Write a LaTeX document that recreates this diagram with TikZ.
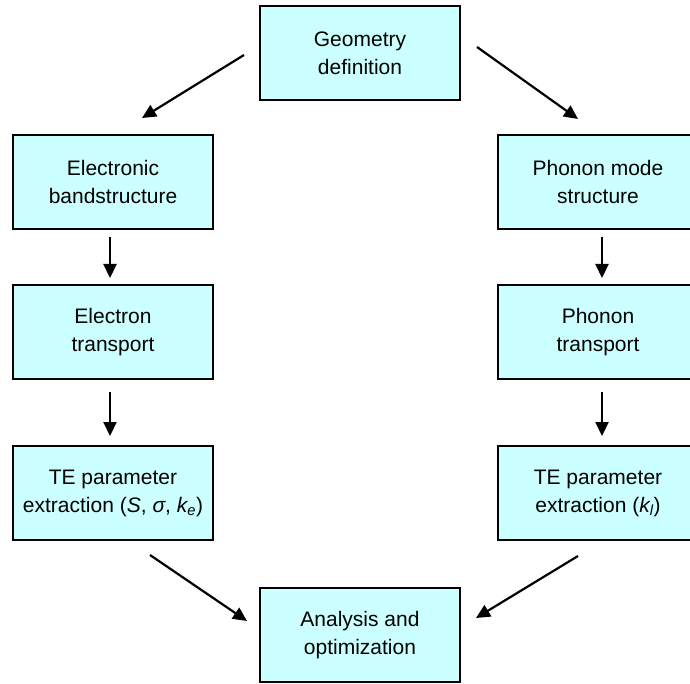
\documentclass[tikz,border=0pt]{standalone}
\usepackage{fontspec}
\setmainfont{Liberation Sans}
\usetikzlibrary{arrows.meta}
\definecolor{boxfill}{RGB}{204,255,255}
\begin{document}
\begin{tikzpicture}[x=1pt,y=-1pt,
  stage/.style={draw=black,line width=2pt,fill=boxfill,minimum width=200pt,minimum height=94pt,
    align=center,inner sep=0pt,font=\fontsize{21}{28}\selectfont},
  flow/.style={line width=2.2pt,-{Triangle[length=14pt,width=13pt]}}]
\useasboundingbox (0,0) rectangle (690,684);
\begin{scope}
\clip (0,0) rectangle (690,684);
\node[stage] (geo) at (360,53) {Geometry\\definition};
\node[stage] (eband) at (113,182) {Electronic\\bandstructure};
\node[stage] (pmode) at (598,182) {Phonon mode\\structure};
\node[stage] (etr) at (113,332) {Electron\\transport};
\node[stage] (ptr) at (598,332) {Phonon\\transport};
\node[stage] (ete) at (113,493) {TE parameter\\extraction ({\itshape S}, {\itshape σ}, {\itshape k}\textsubscript{\itshape e})};
\node[stage] (pte) at (598,493) {TE parameter\\extraction ({\itshape k}\textsubscript{\itshape l})};
\node[stage] (ana) at (360,635) {Analysis and\\optimization};
\end{scope}
% free ends of the connectors, which stop short of the boxes
\coordinate (g1) at (244,55);
\coordinate (g1e) at (142,118);
\coordinate (g2) at (477,47);
\coordinate (g2e) at (578,119);
\coordinate (a1) at (150,555);
\coordinate (a1e) at (247,621);
\coordinate (a2) at (578,556);
\coordinate (a2e) at (476,618);
\coordinate (e1) at (110,237);
\coordinate (e1e) at (110,278);
\coordinate (e2) at (110,392);
\coordinate (e2e) at (110,436);
\coordinate (p1) at (602,237);
\coordinate (p1e) at (602,278);
\coordinate (p2) at (602,392);
\coordinate (p2e) at (602,436);
\draw[flow] (g1) -- (g1e);
\draw[flow] (g2) -- (g2e);
\draw[flow] (a1) -- (a1e);
\draw[flow] (a2) -- (a2e);
\draw[flow] (e1) -- (e1e);
\draw[flow] (e2) -- (e2e);
\draw[flow] (p1) -- (p1e);
\draw[flow] (p2) -- (p2e);
\end{tikzpicture}
\end{document}
